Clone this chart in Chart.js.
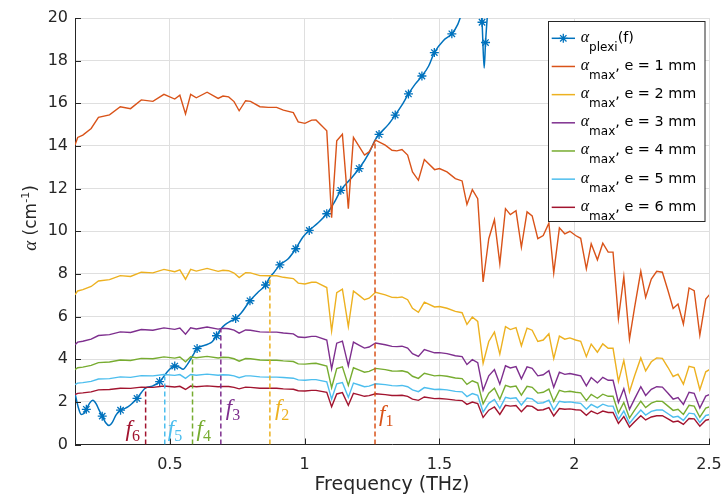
<!DOCTYPE html>
<html>
<head>
<meta charset="utf-8">
<script src="https://cdn.jsdelivr.net/npm/chart.js@4.4.0/dist/chart.umd.min.js"></script>
<style>
  html, body { margin: 0; padding: 0; background: #fff; }
  canvas { display: block; }
</style>
</head>
<body>
<canvas id="chart" width="723" height="500" style="width:723px;height:500px"></canvas>
<script>
// frequency grid (THz) shared by the alpha_max curves
const freq = [0.148,0.158,0.177,0.208,0.235,0.276,0.316,0.354,0.394,0.437,0.478,0.518,0.537,0.558,0.577,0.598,0.638,0.679,0.697,0.718,
  0.738,0.757,0.781,0.799,0.834,0.865,0.896,0.921,0.958,0.976,1.001,1.026,1.042,1.082,1.100,1.119,1.140,1.162,1.181,1.203,
  1.222,1.239,1.263,1.299,1.324,1.342,1.361,1.382,1.400,1.422,1.444,1.482,1.500,1.528,1.559,1.584,1.602,1.622,1.642,1.662,
  1.683,1.704,1.724,1.745,1.763,1.784,1.804,1.825,1.844,1.865,1.885,1.906,1.924,1.945,1.965,1.984,2.005,2.024,2.045,2.063,
  2.086,2.106,2.126,2.144,2.164,2.184,2.205,2.224,2.247,2.265,2.286,2.306,2.327,2.348,2.367,2.385,2.405,2.426,2.445,2.466,
  2.488,2.504];

const alphaE1 = [14.04,14.40,14.51,14.82,15.34,15.46,15.84,15.75,16.16,16.09,16.42,16.20,16.38,15.50,16.42,16.26,16.52,16.23,16.34,16.30,
  16.08,15.65,16.12,16.09,15.84,15.81,15.81,15.68,15.56,15.13,15.06,15.21,15.22,14.71,10.64,14.24,14.55,11.06,14.40,13.96,
  13.57,13.72,14.27,14.04,13.80,13.77,13.83,13.57,12.78,12.39,13.36,12.89,12.94,12.78,12.47,12.36,11.26,11.95,11.53,7.62,
  9.65,10.54,8.48,11.06,10.78,10.96,9.25,10.91,10.72,9.65,9.80,10.38,8.05,10.16,9.88,10.00,9.80,9.67,8.24,9.41,
  8.66,9.44,9.02,9.02,5.91,7.87,4.94,6.43,8.12,6.90,7.76,8.12,8.08,7.21,6.38,6.59,5.65,7.34,7.21,5.13,
  6.82,7.06];

const alphaE2 = [7.02,7.20,7.26,7.41,7.67,7.73,7.92,7.88,8.08,8.05,8.21,8.10,8.19,7.75,8.21,8.13,8.26,8.12,8.17,8.15,
  8.04,7.83,8.06,8.05,7.92,7.91,7.91,7.84,7.78,7.57,7.53,7.61,7.61,7.36,5.32,7.12,7.28,5.53,7.20,6.98,
  6.79,6.86,7.14,7.02,6.90,6.89,6.92,6.79,6.39,6.20,6.68,6.45,6.47,6.39,6.24,6.18,5.63,5.98,5.77,3.81,
  4.83,5.27,4.24,5.53,5.39,5.48,4.63,5.46,5.36,4.83,4.90,5.19,4.03,5.08,4.94,5.00,4.90,4.84,4.12,4.71,
  4.33,4.72,4.51,4.51,2.96,3.94,2.47,3.22,4.06,3.45,3.88,4.06,4.04,3.61,3.19,3.30,2.83,3.67,3.61,2.57,
  3.41,3.53];

const alphaE3 = [4.68,4.80,4.84,4.94,5.11,5.15,5.28,5.25,5.39,5.36,5.47,5.40,5.46,5.17,5.47,5.42,5.51,5.41,5.45,5.43,
  5.36,5.22,5.37,5.36,5.28,5.27,5.27,5.23,5.19,5.04,5.02,5.07,5.07,4.90,3.55,4.75,4.85,3.69,4.80,4.65,
  4.52,4.57,4.76,4.68,4.60,4.59,4.61,4.52,4.26,4.13,4.45,4.30,4.31,4.26,4.16,4.12,3.75,3.98,3.84,2.54,
  3.22,3.51,2.83,3.69,3.59,3.65,3.08,3.64,3.57,3.22,3.27,3.46,2.68,3.39,3.29,3.33,3.27,3.22,2.75,3.14,
  2.89,3.15,3.01,3.01,1.97,2.62,1.65,2.14,2.71,2.30,2.59,2.71,2.69,2.40,2.13,2.20,1.88,2.45,2.40,1.71,
  2.27,2.35];

const alphaE4 = [3.51,3.60,3.63,3.71,3.84,3.87,3.96,3.94,4.04,4.02,4.11,4.05,4.10,3.88,4.11,4.07,4.13,4.06,4.09,4.08,
  4.02,3.91,4.03,4.02,3.96,3.95,3.95,3.92,3.89,3.78,3.77,3.80,3.81,3.68,2.66,3.56,3.64,2.77,3.60,3.49,
  3.39,3.43,3.57,3.51,3.45,3.44,3.46,3.39,3.20,3.10,3.34,3.22,3.24,3.20,3.12,3.09,2.82,2.99,2.88,1.91,
  2.41,2.64,2.12,2.77,2.70,2.74,2.31,2.73,2.68,2.41,2.45,2.60,2.01,2.54,2.47,2.50,2.45,2.42,2.06,2.35,
  2.17,2.36,2.26,2.26,1.48,1.97,1.24,1.61,2.03,1.73,1.94,2.03,2.02,1.80,1.60,1.65,1.41,1.84,1.80,1.28,
  1.71,1.77];

const alphaE5 = [2.81,2.88,2.90,2.96,3.07,3.09,3.17,3.15,3.23,3.22,3.28,3.24,3.28,3.10,3.28,3.25,3.30,3.25,3.27,3.26,
  3.22,3.13,3.22,3.22,3.17,3.16,3.16,3.14,3.11,3.03,3.01,3.04,3.04,2.94,2.13,2.85,2.91,2.21,2.88,2.79,
  2.71,2.74,2.85,2.81,2.76,2.75,2.77,2.71,2.56,2.48,2.67,2.58,2.59,2.56,2.49,2.47,2.25,2.39,2.31,1.52,
  1.93,2.11,1.70,2.21,2.16,2.19,1.85,2.18,2.14,1.93,1.96,2.08,1.61,2.03,1.98,2.00,1.96,1.93,1.65,1.88,
  1.73,1.89,1.80,1.80,1.18,1.57,0.99,1.29,1.62,1.38,1.55,1.62,1.62,1.44,1.28,1.32,1.13,1.47,1.44,1.03,
  1.36,1.41];

const alphaE6 = [2.34,2.40,2.42,2.47,2.56,2.58,2.64,2.63,2.69,2.68,2.74,2.70,2.73,2.58,2.74,2.71,2.75,2.71,2.72,2.72,
  2.68,2.61,2.69,2.68,2.64,2.64,2.64,2.61,2.59,2.52,2.51,2.54,2.54,2.45,1.77,2.37,2.43,1.84,2.40,2.33,
  2.26,2.29,2.38,2.34,2.30,2.30,2.31,2.26,2.13,2.07,2.23,2.15,2.16,2.13,2.08,2.06,1.88,1.99,1.92,1.27,
  1.61,1.76,1.41,1.84,1.80,1.83,1.54,1.82,1.79,1.61,1.63,1.73,1.34,1.69,1.65,1.67,1.63,1.61,1.37,1.57,
  1.44,1.57,1.50,1.50,0.99,1.31,0.82,1.07,1.35,1.15,1.29,1.35,1.35,1.20,1.06,1.10,0.94,1.22,1.20,0.86,
  1.14,1.18];

// absorption of plexiglass, alpha_plexi(f)
const plexiFreq = [0.148,0.160,0.171,0.181,0.190,0.203,0.214,0.226,0.238,0.249,0.262,0.274,0.287,0.300,0.317,0.331,0.344,0.360,0.378,0.395,
  0.410,0.435,0.462,0.478,0.493,0.518,0.535,0.549,0.565,0.584,0.601,0.620,0.640,0.657,0.673,0.689,0.705,0.725,0.744,0.766,
  0.797,0.825,0.855,0.871,0.883,0.908,0.939,0.967,0.993,1.017,1.050,1.082,1.110,1.134,1.170,1.202,1.240,1.261,1.276,1.310,
  1.336,1.360,1.385,1.410,1.435,1.460,1.481,1.515,1.546,1.568,1.590,1.615,1.635,1.650,1.658,1.666,1.671,1.680,1.700];
const plexiAlpha = [2.40,1.75,1.41,1.45,1.65,1.95,2.07,1.92,1.60,1.33,1.02,0.89,1.05,1.38,1.61,1.68,1.76,1.93,2.16,2.45,
  2.66,2.74,2.95,3.20,3.45,3.68,3.62,3.53,3.76,4.15,4.50,4.62,4.70,4.82,5.10,5.42,5.62,5.78,5.91,6.19,
  6.74,7.12,7.48,7.85,8.02,8.42,8.71,9.18,9.72,10.04,10.40,10.82,11.35,11.92,12.45,12.94,13.70,14.27,14.54,15.00,
  15.45,15.90,16.44,16.90,17.28,17.75,18.38,18.95,19.26,19.70,20.50,21.30,21.50,20.60,19.80,17.65,18.85,20.40,22.00];
const plexiStarFreq = [0.190,0.249,0.317,0.378,0.462,0.518,0.601,0.673,0.744,0.797,0.855,0.908,0.967,1.017,1.082,1.134,1.202,
  1.276,1.336,1.385,1.435,1.481,1.546,1.658,1.671];

// cut-off frequencies f1..f6 where alpha_plexi meets alpha_max
const cutFreq = [1.261, 0.871, 0.689, 0.584, 0.481, 0.410];
const cutAlpha = [14.27, 7.92, 5.42, 4.08, 3.18, 2.68];
const thickness = [1, 2, 3, 4, 5, 6];

const xTicks = [0.5, 1, 1.5, 2, 2.5];
const yTicks = [0, 2, 4, 6, 8, 10, 12, 14, 16, 18, 20];

const plexiColor = '#0072BD';
const maxColors = ['#D95319', '#EDB120', '#7E2F8E', '#77AC30', '#4DBEEE', '#A2142F'];
const maxSeries = [alphaE1, alphaE2, alphaE3, alphaE4, alphaE5, alphaE6];

const pts = (xs, ys) => xs.map((v, i) => ({ x: v, y: ys[i] }));
const textColor = '#262626';
const sans = '"DejaVu Sans", sans-serif';
const serif = '"Liberation Serif", "DejaVu Serif", serif';

const datasets = [{
  data: pts(plexiFreq, plexiAlpha),
  borderColor: plexiColor,
  borderWidth: 1.5,
  cubicInterpolationMode: 'monotone',
  pointStyle: 'star',
  pointRadius: c => plexiStarFreq.includes(plexiFreq[c.dataIndex]) ? 4.5 : 0,
  pointBorderColor: plexiColor,
  pointBorderWidth: 1.3,
  order: 10
}];
maxSeries.forEach((s, i) => {
  datasets.push({
    data: pts(freq, s),
    borderColor: maxColors[i],
    borderWidth: 1.4,
    pointRadius: 0,
    tension: 0,
    order: 9 - i
  });
});
cutFreq.forEach((f, i) => {
  datasets.push({
    data: [{ x: f, y: 0 }, { x: f, y: cutAlpha[i] }],
    borderColor: maxColors[i],
    borderWidth: 1.5,
    borderDash: [5, 3],
    pointRadius: 0,
    order: 1
  });
});

function drawRuns(ctx, x, y, parts) {
  parts.forEach(p => {
    ctx.font = p.font;
    ctx.fillText(p.t, x, y + (p.dy || 0));
    x += ctx.measureText(p.t).width;
  });
  return x;
}

function drawStar(ctx, cx, cy, r) {
  ctx.beginPath();
  ctx.moveTo(cx - r, cy); ctx.lineTo(cx + r, cy);
  ctx.moveTo(cx, cy - r); ctx.lineTo(cx, cy + r);
  const d = r * Math.SQRT1_2;
  ctx.moveTo(cx - d, cy - d); ctx.lineTo(cx + d, cy + d);
  ctx.moveTo(cx - d, cy + d); ctx.lineTo(cx + d, cy - d);
  ctx.stroke();
}

const decorations = {
  id: 'decorations',
  afterDraw(chart) {
    const { ctx, chartArea: a, scales: { x, y } } = chart;
    ctx.save();

    // inward tick marks
    ctx.strokeStyle = textColor;
    ctx.lineWidth = 1;
    ctx.beginPath();
    xTicks.forEach(v => {
      const px = Math.round(x.getPixelForValue(v)) + 0.5;
      ctx.moveTo(px, a.bottom); ctx.lineTo(px, a.bottom - 6);
    });
    yTicks.forEach(v => {
      const py = Math.round(y.getPixelForValue(v)) + 0.5;
      ctx.moveTo(a.left, py); ctx.lineTo(a.left + 6, py);
    });
    ctx.stroke();

    // f labels next to the dashed lines
    const dx = [4, 5, 5, 4, 3, -20];
    const up = [24, 30, 30, 9, 9, 9];
    ctx.textBaseline = 'alphabetic';
    ctx.textAlign = 'left';
    cutFreq.forEach((f, i) => {
      ctx.fillStyle = maxColors[i];
      drawRuns(ctx, x.getPixelForValue(f) + dx[i], a.bottom - up[i], [
        { t: 'f', font: 'italic 23px ' + serif },
        { t: String(i + 1), font: '16px ' + serif, dy: 5 }
      ]);
    });

    // axis titles
    ctx.fillStyle = textColor;
    ctx.font = '19px ' + sans;
    ctx.textAlign = 'center';
    ctx.fillText('Frequency (THz)', (a.left + a.right) / 2, 490);
    ctx.textAlign = 'left';

    ctx.save();
    ctx.translate(36, 218);
    ctx.rotate(-Math.PI / 2);
    const yParts = [
      { t: 'α', font: 'italic 19px ' + serif },
      { t: ' (cm', font: '17px ' + sans },
      { t: '-1', font: '11px ' + sans, dy: -7 },
      { t: ')', font: '17px ' + sans }
    ];
    let w = 0;
    yParts.forEach(p => { ctx.font = p.font; w += ctx.measureText(p.t).width; });
    drawRuns(ctx, -w / 2, 0, yParts);
    ctx.restore();

    // legend
    const bx = 548.5, by = 21.5, bw = 156.5, bh = 200;
    ctx.fillStyle = '#fff';
    ctx.fillRect(bx, by, bw, bh);
    ctx.strokeStyle = textColor;
    ctx.lineWidth = 1;
    ctx.strokeRect(bx, by, bw, bh);
    const rowH = 28.17;
    for (let i = 0; i < 7; i++) {
      const ly = 38.3 + i * rowH;
      const col = i === 0 ? plexiColor : maxColors[i - 1];
      ctx.strokeStyle = col;
      ctx.lineWidth = 1.5;
      ctx.beginPath();
      ctx.moveTo(551.7, ly); ctx.lineTo(575, ly);
      ctx.stroke();
      if (i === 0) { ctx.lineWidth = 1.3; drawStar(ctx, 563.3, ly, 4.5); }
      ctx.fillStyle = '#000';
      const parts = i === 0
        ? [{ t: 'α', font: 'italic 16px ' + serif },
           { t: 'plexi', font: '12px ' + sans, dy: 9 },
           { t: '(f)', font: '14.4px ' + sans }]
        : [{ t: 'α', font: 'italic 16px ' + serif },
           { t: 'max', font: '12px ' + sans, dy: 9 },
           { t: ', e = ' + thickness[i - 1] + ' mm', font: '14.4px ' + sans }];
      drawRuns(ctx, 580.7, ly + 3.5, parts);
    }
    ctx.restore();
  }
};

new Chart(document.getElementById('chart'), {
  type: 'line',
  data: { datasets },
  options: {
    responsive: false,
    animation: false,
    events: [],
    layout: { padding: { left: 0, right: 14, top: 18, bottom: 0 } },
    plugins: { legend: { display: false }, tooltip: { enabled: false } },
    scales: {
      x: {
        type: 'linear',
        min: 0.148,
        max: 2.5,
        afterBuildTicks: s => { s.ticks = xTicks.map(v => ({ value: v })); },
        afterFit: s => { s.height = 55.5; s.paddingLeft = 0; s.paddingRight = 0; },
        grid: { color: '#dfdfdf', drawTicks: false },
        border: { color: textColor, width: 1 },
        ticks: { color: textColor, font: { family: sans, size: 16 }, padding: 11, maxRotation: 0, callback: v => String(v) }
      },
      y: {
        min: 0,
        max: 20,
        afterBuildTicks: s => { s.ticks = yTicks.map(v => ({ value: v })); },
        afterFit: s => { s.width = 75; s.paddingTop = 0; s.paddingBottom = 0; },
        grid: { color: '#dfdfdf', drawTicks: false },
        border: { color: textColor, width: 1 },
        ticks: { color: textColor, font: { family: sans, size: 16 }, padding: 7, callback: v => String(v) }
      }
    }
  },
  plugins: [decorations]
});
</script>
</body>
</html>
